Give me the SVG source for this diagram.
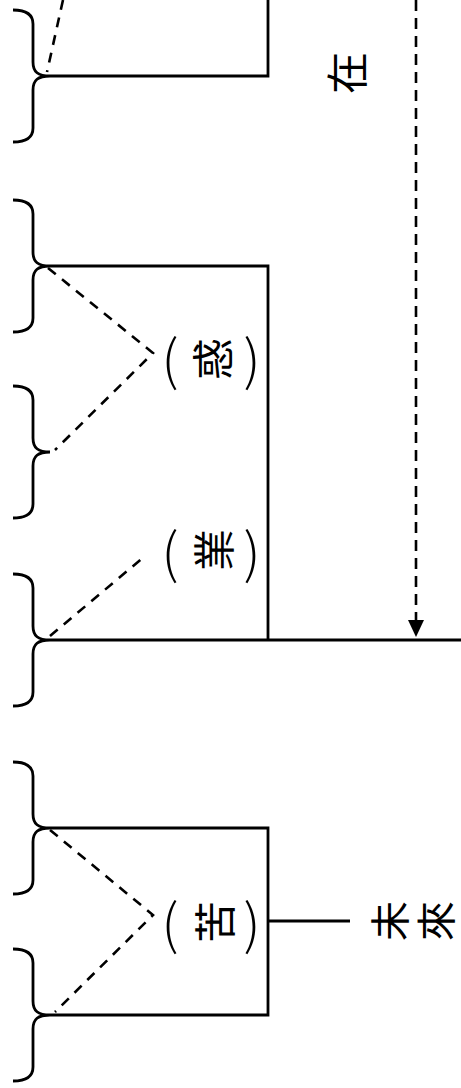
<svg xmlns="http://www.w3.org/2000/svg" width="461" height="1088" viewBox="0 0 461 1088">
<style>
.ln{fill:none;stroke:#000;stroke-width:2.8}
.ds{fill:none;stroke:#000;stroke-width:2.6;stroke-dasharray:10,8}
.dv{fill:none;stroke:#000;stroke-width:2.6;stroke-dasharray:11,7}
.br{fill:none;stroke:#000;stroke-width:2.8}
.cj{font-family:"Noto Sans CJK TC","Noto Sans CJK SC",sans-serif;font-size:42px;fill:#000;text-anchor:middle;dominant-baseline:central}
.cs{font-family:"Noto Sans CJK TC","Noto Sans CJK SC",sans-serif;font-size:40px;fill:#000;text-anchor:middle;dominant-baseline:central}
.pr{font-family:"Noto Sans CJK TC","Noto Sans CJK SC",sans-serif;font-size:54px;font-weight:300;fill:#000;text-anchor:middle;dominant-baseline:central}
</style>
<defs>
<path id="brace" d="M13,-66 C26,-66 33,-62 33,-52 L33,-14 C33,-4 38,0 50,0 C38,0 33,4 33,14 L33,52 C33,62 26,66 13,66"/>
</defs>
<g id="braces" class="br">
<use href="#brace" y="76"/>
<use href="#brace" y="266"/>
<use href="#brace" y="452"/>
<use href="#brace" y="640"/>
<use href="#brace" y="828"/>
<use href="#brace" y="1015"/>
</g>
<g id="connectors">
<path class="ln" d="M268,0 V76 H50"/>
<path class="ln" d="M50,266 H268 V640"/>
<path class="ln" d="M50,640 H461"/>
<path class="ln" d="M50,828 H268 V1015 H50"/>
<path class="ln" d="M268,921 H350"/>
<path class="ds" d="M63,0 L47,72"/>
<path class="ds" d="M48,268 L153,353 L55,450"/>
<path class="ds" d="M50,636 L145,556"/>
<path class="ds" d="M50,830 L153,915 L55,1012"/>
<line class="dv" x1="416" y1="0" x2="416" y2="620"/>
<path d="M408,620 L424,620 L416,637 Z" fill="#000"/>
</g>
<g id="node-zai">
<text class="cj" transform="translate(344,73) rotate(-90)">在</text>
</g>
<g id="node-huo">
<text class="pr" x="170" y="356">(</text>
<text class="cj" transform="translate(210,359) rotate(-90)">惑</text>
<text class="pr" x="252" y="356">)</text>
</g>
<g id="node-ye">
<text class="pr" x="170" y="549">(</text>
<text class="cj" transform="translate(211,550) rotate(-90)">業</text>
<text class="pr" x="252" y="549">)</text>
</g>
<g id="node-ku">
<text class="pr" x="170" y="920">(</text>
<text class="cj" transform="translate(212,922) rotate(-90)">苦</text>
<text class="pr" x="252" y="920">)</text>
</g>
<g id="node-weilai">
<text class="cs" transform="translate(388,921) rotate(-90)">未</text>
<text class="cs" transform="translate(434,921) rotate(-90)">來</text>
</g>
</svg>
